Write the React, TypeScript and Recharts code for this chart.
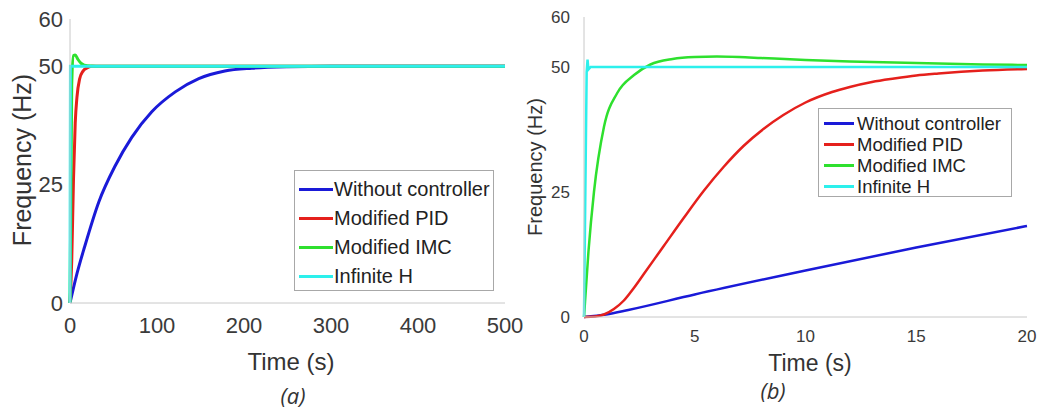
import { LineChart, Line, XAxis, YAxis, Legend } from 'recharts';

type Pt = { t: number; f: number };

const seriesNames = ['Without controller', 'Modified PID', 'Modified IMC', 'Infinite H'];
const seriesColors = ['#1a1ad8', '#e5201c', '#2ee02e', '#2cf0ec'];

const yTicks = [0, 25, 50, 60];
const xTicksA = [0, 100, 200, 300, 400, 500];
const xTicksB = [0, 5, 10, 15, 20];

// panel (a): 0 - 500 s
const withoutA: Pt[] = [
  { t: 0, f: 0 }, { t: 8, f: 6.2 }, { t: 17, f: 12 }, { t: 33, f: 21.3 }, { t: 52, f: 29 },
  { t: 71, f: 35 }, { t: 94, f: 40.4 }, { t: 121, f: 44.6 }, { t: 148, f: 47.4 }, { t: 178, f: 49 },
  { t: 209, f: 49.6 }, { t: 250, f: 49.9 }, { t: 300, f: 50 }, { t: 400, f: 50 }, { t: 500, f: 50 },
];
const pidA: Pt[] = [
  { t: 0, f: 0 }, { t: 2, f: 9 }, { t: 4, f: 26 }, { t: 6, f: 38 }, { t: 8, f: 43.5 },
  { t: 11, f: 47.3 }, { t: 15, f: 49 }, { t: 19, f: 49.6 }, { t: 25, f: 50 }, { t: 500, f: 50 },
];
const imcA: Pt[] = [
  { t: 0, f: 0 }, { t: 2, f: 46 }, { t: 4, f: 52.3 }, { t: 6, f: 52.4 }, { t: 9, f: 51.5 },
  { t: 13, f: 50.6 }, { t: 20, f: 50.1 }, { t: 30, f: 50 }, { t: 500, f: 50 },
];
const hinfA: Pt[] = [
  { t: 0, f: 0 }, { t: 0.5, f: 50 }, { t: 500, f: 50 },
];

// panel (b): 0 - 20 s
const withoutB: Pt[] = [
  { t: 0, f: 0 }, { t: 1, f: 0.5 }, { t: 2, f: 1.4 }, { t: 5, f: 4.5 }, { t: 10, f: 9.3 },
  { t: 15, f: 13.9 }, { t: 20, f: 18.2 },
];
const pidB: Pt[] = [
  { t: 0, f: 0 }, { t: 0.5, f: 0.1 }, { t: 0.9, f: 0.5 }, { t: 1.35, f: 1.6 }, { t: 1.8, f: 3.3 },
  { t: 2.25, f: 5.8 }, { t: 2.7, f: 8.6 }, { t: 3.6, f: 14.2 }, { t: 4.5, f: 19.8 }, { t: 5.4, f: 25.2 },
  { t: 6.3, f: 30 }, { t: 7.2, f: 34.2 }, { t: 8.1, f: 37.6 }, { t: 9, f: 40.4 }, { t: 10, f: 42.9 },
  { t: 11.2, f: 45 }, { t: 12, f: 46 }, { t: 13, f: 47 }, { t: 14, f: 47.7 }, { t: 15, f: 48.3 },
  { t: 16, f: 48.7 }, { t: 18, f: 49.3 }, { t: 20, f: 49.6 },
];
const imcB: Pt[] = [
  { t: 0, f: 0 }, { t: 0.2, f: 13 }, { t: 0.45, f: 25 }, { t: 0.9, f: 38 }, { t: 1.5, f: 44.8 },
  { t: 2.26, f: 48.4 }, { t: 3, f: 50.5 }, { t: 4, f: 51.6 }, { t: 5, f: 52 }, { t: 6, f: 52.1 },
  { t: 7, f: 52 }, { t: 8, f: 51.8 }, { t: 10, f: 51.4 }, { t: 12, f: 51.1 }, { t: 15, f: 50.8 },
  { t: 18, f: 50.5 }, { t: 20, f: 50.4 },
];
const hinfB: Pt[] = [
  { t: 0, f: 0 }, { t: 0.12, f: 49 }, { t: 0.16, f: 51.5 }, { t: 0.2, f: 49.5 }, { t: 0.3, f: 50 },
  { t: 20, f: 50 },
];

const font = 'Arial, "Liberation Sans", Helvetica, sans-serif';

type PanelProps = {
  left: number;
  width: number;
  series: Pt[][];
  xTicks: number[];
  xMax: number;
  margin: { top: number; right: number; bottom: number; left: number };
  yAxisWidth: number;
  tickFont: number;
  tickMarginX: number;
  tickMarginY: number;
  strokeWidth: number;
  legend: { left: number; top: number; width: number; height: number; fontSize: number; rowH: number; padTop: number; lineX0: number; lineX1: number; textX: number };
};

function LegendBox({ cfg }: { cfg: PanelProps['legend'] }) {
  return (
    <div style={{ width: cfg.width, height: cfg.height, boxSizing: 'border-box', border: '1px solid #a8a8a8', background: '#fff', position: 'relative', fontFamily: font }}>
      {seriesNames.map((name, i) => (
        <div key={name} style={{ position: 'absolute', left: 0, top: cfg.padTop + i * cfg.rowH, height: cfg.rowH, width: '100%' }}>
          <div style={{ position: 'absolute', left: cfg.lineX0, width: cfg.lineX1 - cfg.lineX0, top: cfg.rowH / 2 - 1.5, height: 3, background: seriesColors[i] }} />
          <div style={{ position: 'absolute', left: cfg.textX, top: 0, lineHeight: `${cfg.rowH}px`, fontSize: cfg.fontSize, color: '#222', whiteSpace: 'nowrap' }}>{name}</div>
        </div>
      ))}
    </div>
  );
}

function Panel(p: PanelProps) {
  return (
    <div style={{ position: 'absolute', left: p.left, top: 0 }}>
      <LineChart width={p.width} height={414} margin={p.margin}>
        <XAxis
          dataKey="t"
          type="number"
          domain={[0, p.xMax]}
          ticks={p.xTicks}
          allowDuplicatedCategory={false}
          height={30}
          tickLine={false}
          tickMargin={p.tickMarginX}
          stroke="#c8c8c8"
          tick={{ fill: '#3a3a3a', fontSize: p.tickFont, fontFamily: font }}
          interval={0}
        />
        <YAxis
          type="number"
          domain={[0, 60]}
          ticks={yTicks}
          width={p.yAxisWidth}
          tickLine={false}
          tickMargin={p.tickMarginY}
          stroke="#c8c8c8"
          tick={{ fill: '#3a3a3a', fontSize: p.tickFont, fontFamily: font }}
          interval={0}
        />
        <Legend
          layout="vertical"
          align="center"
          verticalAlign="middle"
          wrapperStyle={{ left: p.legend.left, top: p.legend.top, width: p.legend.width, height: p.legend.height }}
          content={() => <LegendBox cfg={p.legend} />}
        />
        {p.series.map((data, i) => (
          <Line
            key={seriesNames[i]}
            data={data}
            dataKey="f"
            name={seriesNames[i]}
            type={i === 3 ? 'linear' : 'monotone'}
            stroke={seriesColors[i]}
            strokeWidth={p.strokeWidth}
            dot={false}
            activeDot={false}
            isAnimationActive={false}
          />
        ))}
      </LineChart>
    </div>
  );
}

function Title({ x, y, size, text, rotate, italic }: { x: number; y: number; size: number; text: string; rotate?: boolean; italic?: boolean }) {
  return (
    <div
      style={{
        position: 'absolute',
        left: x,
        top: y,
        transform: `translate(-50%, -50%)${rotate ? ' rotate(-90deg)' : ''}`,
        fontSize: size,
        fontFamily: italic ? '"Open Sans", sans-serif' : font,
        fontStyle: italic ? 'italic' : 'normal',
        color: '#333',
        whiteSpace: 'nowrap',
        lineHeight: 1,
      }}
    >
      {text}
    </div>
  );
}

export default function App() {
  return (
    <div style={{ position: 'absolute', left: 0, top: 0, width: 1045, height: 414, background: '#fff', overflow: 'hidden' }}>
      <Panel
        left={520}
        width={525}
        series={[withoutB, pidB, imcB, hinfB]}
        xTicks={xTicksB}
        xMax={20}
        margin={{ top: 17, right: 18, bottom: 67, left: 0 }}
        yAxisWidth={64}
        tickFont={17}
        tickMarginX={7}
        tickMarginY={8}
        strokeWidth={2.5}
        legend={{ left: 298, top: 108, width: 194, height: 89, fontSize: 18.5, rowH: 21, padTop: 3.5, lineX0: 5, lineX1: 35, textX: 38 }}
      />
      <Panel
        left={0}
        width={540}
        series={[withoutA, pidA, imcA, hinfA]}
        xTicks={xTicksA}
        xMax={500}
        margin={{ top: 19, right: 35, bottom: 81, left: 0 }}
        yAxisWidth={70}
        tickFont={22}
        tickMarginX={8}
        tickMarginY={1}
        strokeWidth={3}
        legend={{ left: 294, top: 170, width: 200, height: 121, fontSize: 20, rowH: 29, padTop: 4, lineX0: 4, lineX1: 38, textX: 39 }}
      />
      <Title x={22} y={160} size={25} text="Frequency (Hz)" rotate />
      <Title x={291} y={362} size={24} text="Time (s)" />
      <Title x={293} y={395} size={22} text="(a)" italic />
      <Title x={535} y={167} size={20} text="Frequency (Hz)" rotate />
      <Title x={810} y={363} size={23} text="Time (s)" />
      <Title x={773} y={390} size={22} text="(b)" italic />
    </div>
  );
}
